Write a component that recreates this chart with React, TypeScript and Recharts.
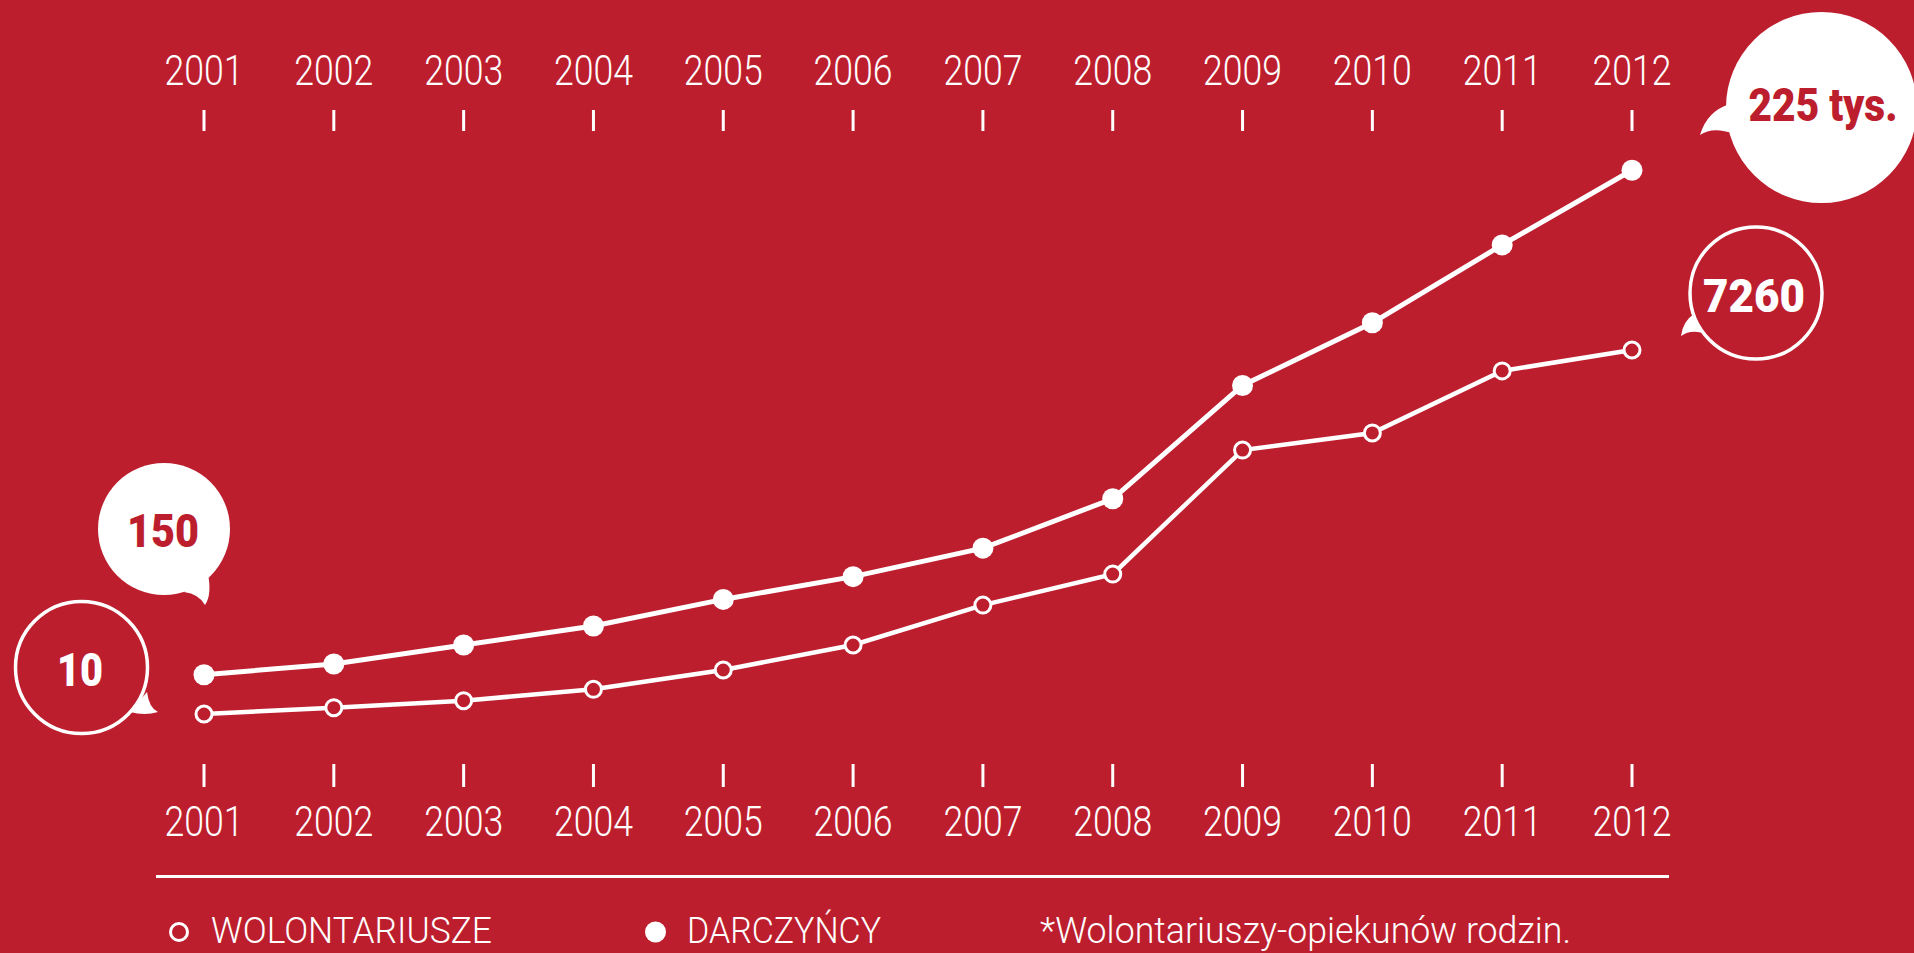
import React from "react";
import { LineChart, Line, XAxis, YAxis } from "recharts";

const RED = "#BD1E2E";
const WHITE = "#FFFFFF";

// index values (0 = bottom axis, 100 = top axis)
const years = ["2001", "2002", "2003", "2004", "2005", "2006", "2007", "2008", "2009", "2010", "2011", "2012"];
const darczyncy = [14.1, 15.8, 18.8, 21.8, 26.0, 29.6, 34.1, 41.9, 59.8, 69.7, 82.0, 93.8];
const wolontariusze = [7.9, 8.9, 10.0, 11.8, 14.85, 18.8, 25.1, 30.0, 49.6, 52.3, 62.1, 65.4];

const seriesNames = ["WOLONTARIUSZE", "DARCZYŃCY"];
const footnote = "*Wolontariuszy-opiekunów rodzin.";
const startLabels = ["10", "150"];
const endLabels = ["7260", "225 tys."];

const data = years.map((year, i) => ({
  year,
  darczyncy: darczyncy[i],
  wolontariusze: wolontariusze[i],
}));

const LIGHT = { fontFamily: "Roboto, 'Liberation Sans', sans-serif", fontWeight: 300 };
const BOLD = { fontFamily: "Roboto, 'Liberation Sans', sans-serif", fontWeight: 900 };

function YearTick(props: any) {
  const { x, y, payload, side } = props;
  const base = side === "top" ? y - 25 : y + 49;
  return (
    <text
      x={x}
      y={base}
      textAnchor="middle"
      fill={WHITE}
      fontSize={43}
      textLength={79}
      lengthAdjust="spacingAndGlyphs"
      style={LIGHT}
    >
      {payload.value}
    </text>
  );
}

function Bubble({
  cx,
  cy,
  r,
  solid,
  tail,
  label,
  tx,
  ty,
  tw,
}: {
  cx: number;
  cy: number;
  r: number;
  solid: boolean;
  tail: string;
  label: string;
  tx: number;
  ty: number;
  tw: number;
}) {
  return (
    <g>
      <path d={tail} fill={WHITE} />
      <circle
        cx={cx}
        cy={cy}
        r={r}
        fill={solid ? WHITE : RED}
        stroke={WHITE}
        strokeWidth={solid ? 0 : 3.5}
      />
      <text
        x={tx}
        y={ty}
        textAnchor="middle"
        fill={solid ? RED : WHITE}
        fontSize={46}
        textLength={tw}
        lengthAdjust="spacingAndGlyphs"
        style={BOLD}
      >
        {label}
      </text>
    </g>
  );
}

export default function App() {
  return (
    <div
      style={{
        position: "absolute",
        left: 0,
        top: 0,
        width: 1914,
        height: 953,
        background: RED,
        overflow: "hidden",
      }}
    >
      <LineChart
        width={1914}
        height={953}
        data={data}
        margin={{ top: 0, right: 282, left: 204, bottom: 69 }}
      >
        <XAxis
          xAxisId="top"
          orientation="top"
          dataKey="year"
          height={131}
          interval={0}
          tickSize={21}
          tickMargin={0}
          axisLine={false}
          tickLine={{ stroke: WHITE, strokeWidth: 3 }}
          tick={(p: any) => <YearTick {...p} side="top" />}
        />
        <XAxis
          xAxisId="bottom"
          orientation="bottom"
          dataKey="year"
          height={120}
          interval={0}
          tickSize={23}
          tickMargin={0}
          axisLine={false}
          tickLine={{ stroke: WHITE, strokeWidth: 3 }}
          tick={(p: any) => <YearTick {...p} side="bottom" />}
        />
        <YAxis hide domain={[0, 100]} />
        <Line
          xAxisId="bottom"
          dataKey="wolontariusze"
          name={seriesNames[0]}
          stroke={WHITE}
          strokeWidth={4.5}
          dot={{ r: 8, fill: RED, stroke: WHITE, strokeWidth: 3 }}
          activeDot={false}
          isAnimationActive={false}
        />
        <Line
          xAxisId="bottom"
          dataKey="darczyncy"
          name={seriesNames[1]}
          stroke={WHITE}
          strokeWidth={5}
          dot={{ r: 10.5, fill: WHITE, stroke: "none" }}
          activeDot={false}
          isAnimationActive={false}
        />
      </LineChart>

      <svg
        width={1914}
        height={953}
        style={{ position: "absolute", left: 0, top: 0, pointerEvents: "none" }}
      >
        <Bubble
          cx={164}
          cy={529}
          r={66}
          solid
          tail="M 208 574 Q 212 595 205 605 Q 199 594 184 592 Z"
          label={startLabels[1]}
          tx={163}
          ty={547}
          tw={72}
        />
        <Bubble
          cx={81.5}
          cy={667.5}
          r={66}
          solid={false}
          tail="M 147 692 Q 149 708 158 712 Q 145 716 130 712 Z"
          label={startLabels[0]}
          tx={80}
          ty={686}
          tw={46}
        />
        <Bubble
          cx={1821.5}
          cy={107.5}
          r={95.5}
          solid
          tail="M 1730 104 Q 1707 111 1700 135 Q 1713 126 1734 134 Z"
          label={endLabels[1]}
          tx={1823}
          ty={121}
          tw={149}
        />
        <Bubble
          cx={1756}
          cy={293}
          r={66}
          solid={false}
          tail="M 1694 314 Q 1683 321 1681 336 Q 1692 328 1708 335 Z"
          label={endLabels[0]}
          tx={1754}
          ty={312}
          tw={102}
        />

        <line x1={156} x2={1669} y1={876.5} y2={876.5} stroke={WHITE} strokeWidth={3} />

        <circle cx={179} cy={932} r={8.5} fill="none" stroke={WHITE} strokeWidth={3} />
        <text x={211} y={943} fill={WHITE} fontSize={36} textLength={281} lengthAdjust="spacingAndGlyphs" style={LIGHT}>
          {seriesNames[0]}
        </text>
        <circle cx={655.5} cy={932} r={10.5} fill={WHITE} />
        <text x={687} y={943} fill={WHITE} fontSize={36} textLength={194} lengthAdjust="spacingAndGlyphs" style={LIGHT}>
          {seriesNames[1]}
        </text>
        <text x={1040} y={943} fill={WHITE} fontSize={36} textLength={531} lengthAdjust="spacingAndGlyphs" style={LIGHT}>
          {footnote}
        </text>
      </svg>
    </div>
  );
}
